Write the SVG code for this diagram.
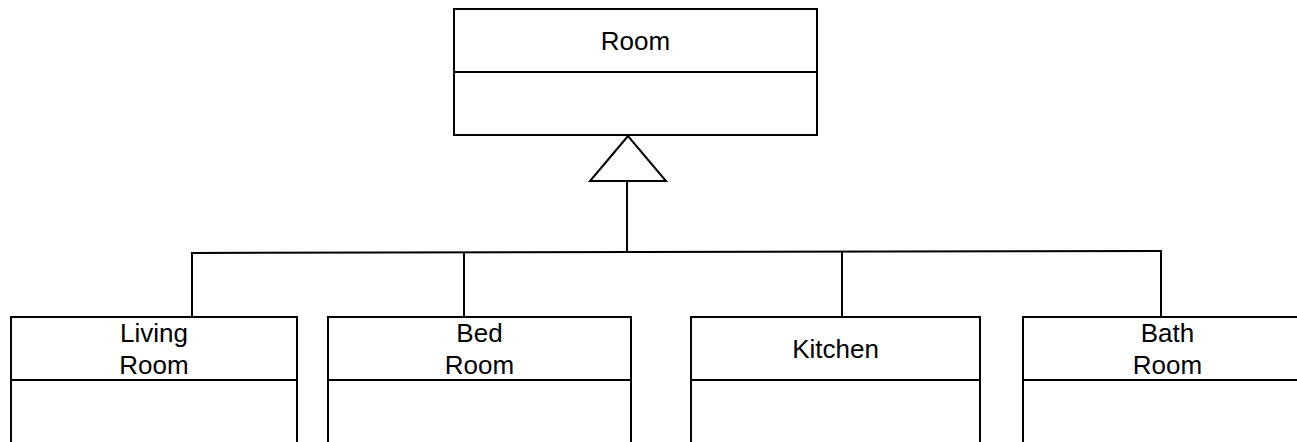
<svg xmlns="http://www.w3.org/2000/svg" width="1297" height="442" viewBox="0 0 1297 442">
<style>
.box{fill:#fff;stroke:#000;stroke-width:2}
.ln{fill:none;stroke:#000;stroke-width:2}
text{font-family:"Liberation Sans",Arial,sans-serif;font-size:26px;fill:#000;text-anchor:middle}
</style>
<rect width="1297" height="442" fill="#fff"/>
<g id="connectors">
<polygon class="box" points="628,136 590,181 666,181"/>
<line class="ln" x1="627" y1="181" x2="627" y2="252"/>
<polyline class="ln" points="192,317 192,253 1162,251"/>
<line class="ln" x1="464" y1="253" x2="464" y2="317"/>
<line class="ln" x1="842" y1="252" x2="842" y2="317"/>
<line class="ln" x1="1161" y1="251" x2="1161" y2="317"/>
</g>
<g id="room">
<rect class="box" x="454" y="9" width="363" height="126"/>
<line class="ln" x1="454" y1="72" x2="817" y2="72"/>
<text x="635.5" y="50">Room</text>
</g>
<g id="living">
<rect class="box" x="11" y="317" width="286" height="140"/>
<line class="ln" x1="11" y1="380" x2="297" y2="380"/>
<text x="154" y="342">Living</text>
<text x="154" y="374">Room</text>
</g>
<g id="bed">
<rect class="box" x="328" y="317" width="303" height="140"/>
<line class="ln" x1="328" y1="380" x2="631" y2="380"/>
<text x="479.5" y="342">Bed</text>
<text x="479.5" y="374">Room</text>
</g>
<g id="kitchen">
<rect class="box" x="691" y="317" width="289" height="140"/>
<line class="ln" x1="691" y1="380" x2="980" y2="380"/>
<text x="835.5" y="358">Kitchen</text>
</g>
<g id="bath">
<rect class="box" x="1023" y="317" width="289" height="140"/>
<line class="ln" x1="1023" y1="380" x2="1312" y2="380"/>
<text x="1167.5" y="342">Bath</text>
<text x="1167.5" y="374">Room</text>
</g>
</svg>
